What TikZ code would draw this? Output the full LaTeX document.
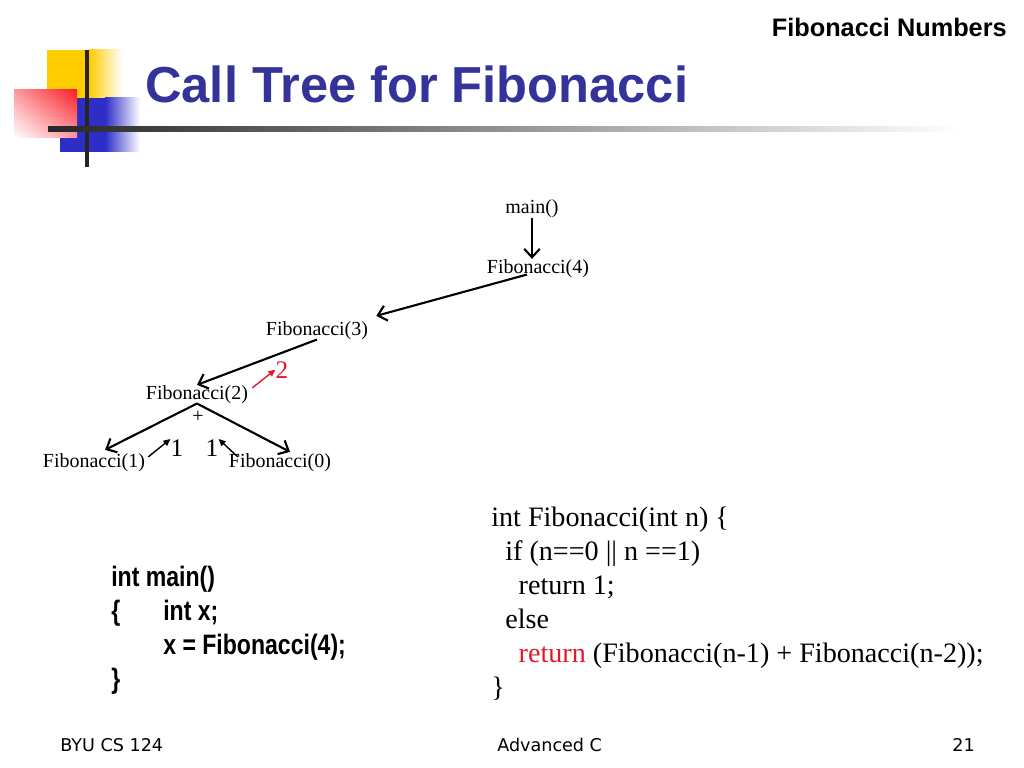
\documentclass[tikz,border=0pt]{standalone}
\usepackage{fontspec}
\setmainfont{Liberation Serif}
\newfontfamily\headfont{Liberation Sans}
\newfontfamily\narrowfont[FakeStretch=0.82]{Liberation Sans}
\newfontfamily\footfont{DejaVu Sans}
\usetikzlibrary{arrows.meta,shadings}
\definecolor{titleblue}{RGB}{51,51,153}
\definecolor{logoyellow}{RGB}{255,204,0}
\definecolor{logoblue}{RGB}{45,45,200}
\definecolor{logored}{RGB}{250,30,40}
\definecolor{codered}{RGB}{225,25,45}

\begin{document}
\begin{tikzpicture}[x=0.025cm, y=-0.025cm, every node/.style={inner sep=0pt},
  call/.style={font=\fontsize{14.2}{17}\selectfont, anchor=base},
  result/.style={font=\fontsize{18}{20}\selectfont, anchor=base},
  callarrow/.style={line width=1.5pt, -{Straight Barb[length=6pt,width=11pt]}},
  backarrow/.style={line width=1pt, -{Triangle[length=5pt,width=4.5pt]}},
  footer/.style={font=\footfont\fontsize{12.5}{14}\selectfont, anchor=base west}]
\useasboundingbox (0,0) rectangle (1024,768);

\fill[logoyellow] (47,50) rectangle (89,98);
\shade[left color=logoyellow, right color=white] (89,50) rectangle (122,98);
\fill[logoblue] (60,98) rectangle (105,152);
\shade[left color=logoblue, right color=white] (105,98) rectangle (140,152);
\shade[upper right=logored, upper left=logored!45, lower right=logored!45, lower left=white] (14,90) rectangle (77,138);
\fill[black!85] (85,50) rectangle (89,167);
\shade[left color=black!85, middle color=black!40, right color=white] (48,127) rectangle (960,132);

\node[anchor=base east, font=\headfont\bfseries\fontsize{18}{20}\selectfont] (topic) at (1007,37) {Fibonacci Numbers};
\node[anchor=base west, font=\headfont\bfseries\fontsize{36}{40}\selectfont, text=titleblue] (title) at (145,103) {Call Tree for Fibonacci};

\node[call] (main) at (532,213) {main()};
\node[call] (fibfour) at (538,273) {Fibonacci(4)};
\node[call] (fibthree) at (317,335) {Fibonacci(3)};
\node[call] (fibtwo) at (197,399) {Fibonacci(2)};
\node[call] (fibone) at (94,467) {Fibonacci(1)};
\node[call] (fibzero) at (280,467) {Fibonacci(0)};
\node[call] (plus) at (198,422) {+};
\node[result] (oneleft) at (177,456) {1};
\node[result] (oneright) at (212,456) {1};
\node[result, text=codered] (sumtwo) at (282,378) {2};

\draw[callarrow] (main) -- (main |- fibfour.north);
\draw[callarrow] ([shift={(-11,-3)}]fibfour.south) -- ([shift={(8,-5)}]fibthree.north east);
\draw[callarrow] (fibthree.south) -- (fibtwo.north);
\draw[callarrow] (fibtwo.south) -- ([shift={(11,-3)}]fibone.north);
\draw[callarrow] (fibtwo.south) -- ([shift={(10,-1)}]fibzero.north);
\draw[backarrow] ([shift={(3,4)}]fibone.north east) -- (oneleft.north west);
\draw[backarrow] ([shift={(9,4)}]fibzero.north west) -- (oneright.north east);
\draw[backarrow, codered] ([shift={(4,3)}]fibtwo.north east) -- (sumtwo.west);

\node[anchor=north west, align=left, font=\fontsize{20}{24.2}\selectfont] (fibcode) at (491,507)
  {int Fibonacci(int n) \{\\
   \hspace*{10pt}if (n==0 || n ==1)\\
   \hspace*{19.5pt}return 1;\\
   \hspace*{10pt}else\\
   \hspace*{19.5pt}\textcolor{codered}{return} (Fibonacci(n-1) + Fibonacci(n-2));\\
   \}};
\node[anchor=north west, align=left, font=\narrowfont\bfseries\fontsize{20}{24.2}\selectfont] (maincode) at (111,566)
  {int main()\\
   \makebox[37pt][l]{\{}int x;\\
   \hspace*{37pt}x = Fibonacci(4);\\
   \}};

\node[footer] (course) at (60,751) {BYU CS 124};
\node[footer] (unit) at (497,751) {Advanced C};
\node[footer, anchor=base east] (page) at (975,751) {21};
\end{tikzpicture}
\end{document}
